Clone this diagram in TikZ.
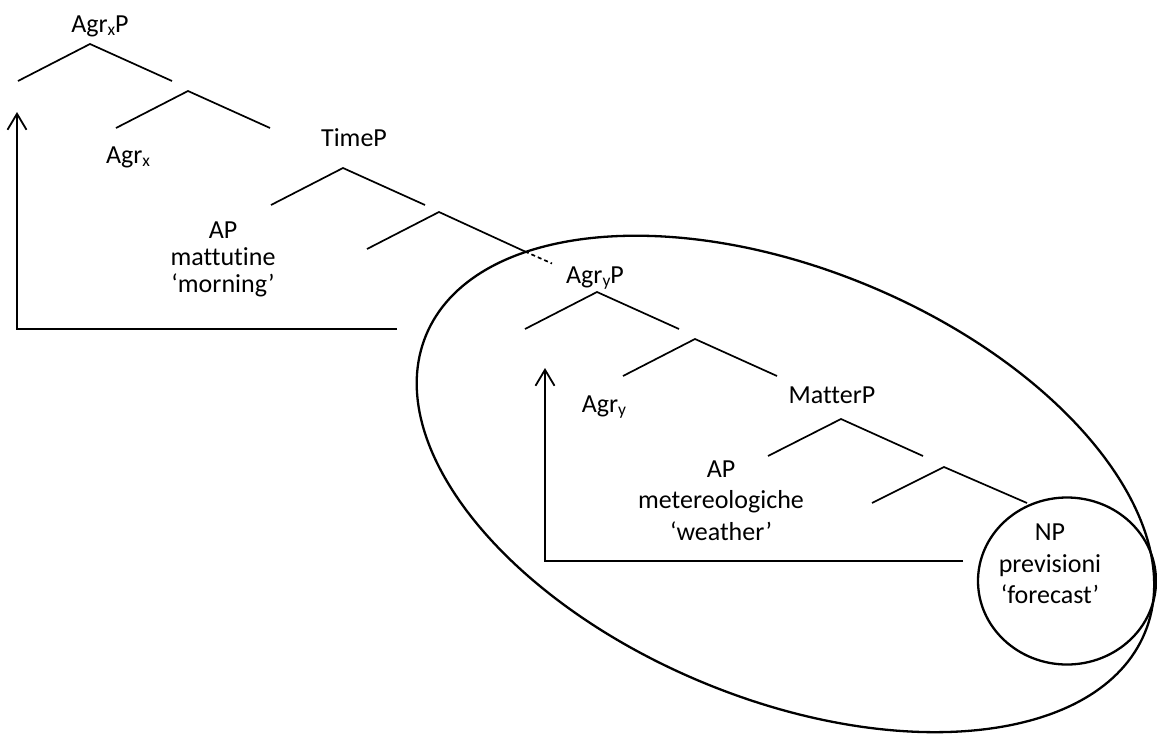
\documentclass[tikz,border=0pt]{standalone}
\usepackage{fontspec}
\setmainfont{Carlito}[Ligatures={CommonOff}]
\usetikzlibrary{arrows.meta}
\newcommand{\lowidx}[1]{\raisebox{-3pt}{\fontsize{17.5}{17.5}\selectfont #1}}
\tikzset{
  lbl/.style={anchor=base, inner sep=0pt, font=\fontsize{26}{30}\selectfont},
  branch/.style={line width=1.7pt, line cap=butt},
  move/.style={line width=1.9pt, -{Straight Barb[length=16pt,width=19pt,line width=1.8pt]}},
  ring/.style={line width=2.3pt}
}
\begin{document}
\begin{tikzpicture}[x=1pt,y=1pt]
\useasboundingbox (0,0) rectangle (1157,-734);
% labels
\node[lbl] (agrxp) at (100,-32) {Agr\lowidx{x}P};
\node[lbl] (agrx) at (128,-163) {Agr\lowidx{x}};
\node[lbl] (timep) at (354,-146) {TimeP};
\node[lbl] (apA1) at (223,-238) {AP};
\node[lbl] (apA2) at (223,-265) {mattutine};
\node[lbl] (apA3) at (223,-292) {‘morning’};
\node[lbl] (agryp) at (595,-283) {Agr\lowidx{y}P};
\node[lbl] (agry) at (604,-412) {Agr\lowidx{y}};
\node[lbl] (matterp) at (832,-403) {MatterP};
\node[lbl] (apB1) at (721,-477) {AP};
\node[lbl] (apB2) at (721,-508) {metereologiche};
\node[lbl] (apB3) at (721,-540) {‘weather’};
\node[lbl] (np1) at (1050,-540) {NP};
\node[lbl] (np2) at (1050,-572) {previsioni};
\node[lbl] (np3) at (1050,-603) {‘forecast’};
% branch points
\coordinate (a1) at (90,-44);   \coordinate (l1) at (18,-81);   \coordinate (r1) at (172,-81);
\coordinate (a2) at (188,-91);  \coordinate (l2) at (116,-128); \coordinate (r2) at (270,-128);
\coordinate (a3) at (343,-168); \coordinate (l3) at (271,-205); \coordinate (r3) at (425,-205);
\coordinate (a4) at (439,-212); \coordinate (l4) at (367,-249); \coordinate (m4) at (525,-251.5); \coordinate (r4) at (552,-263.5);
\coordinate (a5) at (597,-292); \coordinate (l5) at (525,-329); \coordinate (r5) at (679,-329);
\coordinate (a6) at (695,-339); \coordinate (l6) at (623,-376); \coordinate (r6) at (777,-376);
\coordinate (a7) at (841,-419); \coordinate (l7) at (768,-456); \coordinate (r7) at (923,-456);
\coordinate (a8) at (944,-467); \coordinate (l8) at (872,-503); \coordinate (r8) at (1027,-503);
\draw[branch] (l1) -- (a1) -- (r1);
\draw[branch] (l2) -- (a2) -- (r2);
\draw[branch] (l3) -- (a3) -- (r3);
\draw[branch] (l4) -- (a4) -- (m4);
\draw[branch, dash pattern=on 4pt off 3pt] (m4) -- (r4);
\draw[branch] (l5) -- (a5) -- (r5);
\draw[branch] (l6) -- (a6) -- (r6);
\draw[branch] (l7) -- (a7) -- (r7);
\draw[branch] (l8) -- (a8) -- (r8);
% movement arrows
\coordinate (m1s) at (397,-329); \coordinate (m1c) at (17,-329); \coordinate (m1t) at (17,-112);
\coordinate (m2s) at (963,-561); \coordinate (m2c) at (545,-561); \coordinate (m2t) at (545,-368);
\draw[move] (m1s) -- (m1c) -- (m1t);
\draw[move] (m2s) -- (m2c) -- (m2t);
% ellipses
\coordinate (bigc) at (785.5,-484);
\coordinate (smallc) at (1067,-581);
\draw[ring, rotate around={-22.5:(bigc)}] (bigc) ellipse [x radius=389, y radius=215];
\draw[ring] (smallc) ellipse [x radius=89, y radius=83.5];
\end{tikzpicture}
\end{document}
